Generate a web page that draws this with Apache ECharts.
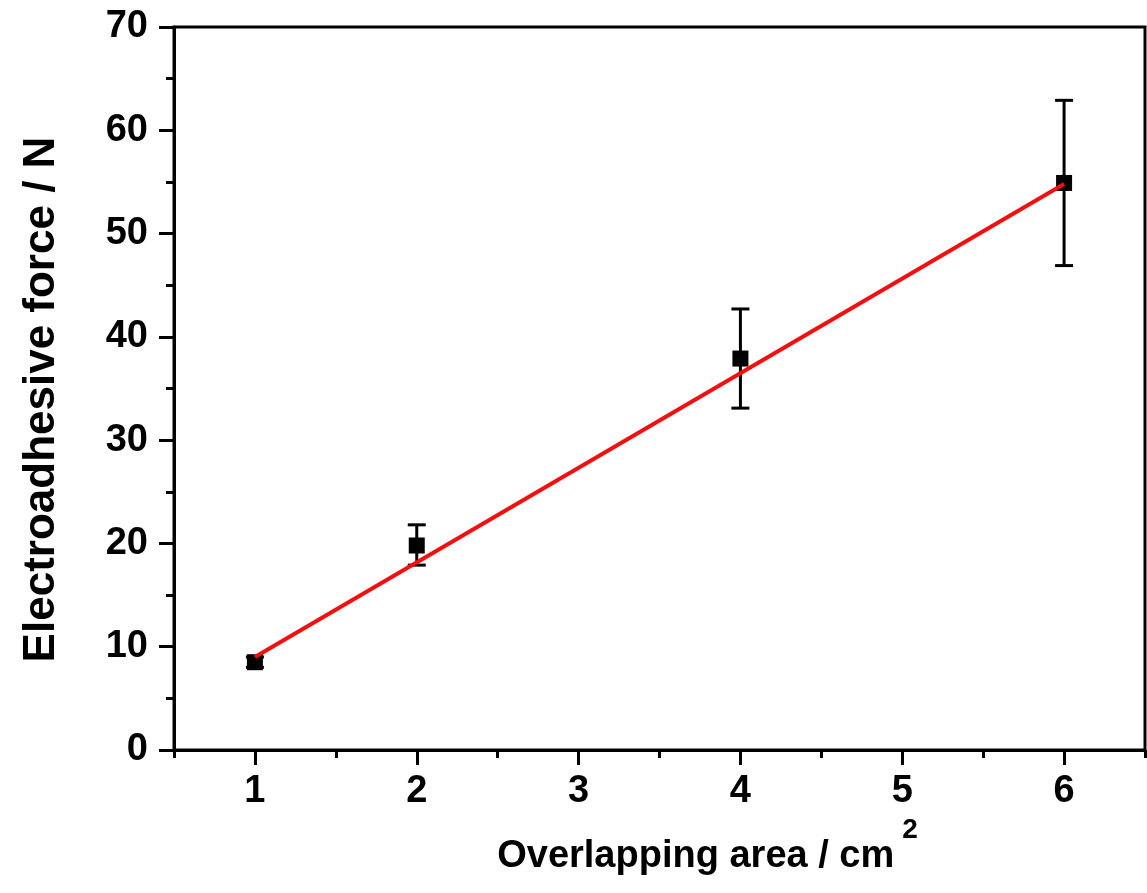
<!DOCTYPE html>
<html>
<head>
<meta charset="utf-8">
<title>Electroadhesive force vs overlapping area</title>
<script src="https://cdn.jsdelivr.net/npm/echarts@6/dist/echarts.min.js"></script>
<style>
  html, body { margin: 0; padding: 0; background: #fff; }
  #main { width: 1147px; height: 893px; }
</style>
</head>
<body>
<div id="main"></div>
<script>
// measured points (area in cm^2, force in N)
var areaValues = [1, 2, 4, 6];
var forceMeans = [8.5, 19.8, 37.9, 54.9];
var forceLow = [8.0, 17.9, 33.1, 46.9];
var forceHigh = [9.0, 21.8, 42.7, 62.9];

// linear fit, read at its ends
var fitX = [1, 6];
var fitY = [9.0, 54.8];

// tick positions
var xMajorTicks = [1, 2, 3, 4, 5, 6];
var xMinorTicks = [0.5, 1.5, 2.5, 3.5, 4.5, 5.5, 6.5];

var FONT = "'Liberation Sans', Arial, Helvetica, sans-serif";

var chart = echarts.init(document.getElementById('main'));

var points = areaValues.map(function (x, i) { return [x, forceMeans[i]]; });
var bars = areaValues.map(function (x, i) { return [x, forceLow[i], forceHigh[i]]; });
var fit = fitX.map(function (x, i) { return [x, fitY[i]]; });

// error bars: vertical line with caps
function renderErrorBar(params, api) {
    var x = api.value(0);
    var top = api.coord([x, api.value(2)]);
    var bot = api.coord([x, api.value(1)]);
    var half = 9;
    var st = { stroke: '#000', lineWidth: 3 };
    return {
        type: 'group',
        children: [
            { type: 'line', shape: { x1: top[0], y1: top[1], x2: bot[0], y2: bot[1] }, style: st },
            { type: 'line', shape: { x1: top[0] - half, y1: top[1], x2: top[0] + half, y2: top[1] }, style: st },
            { type: 'line', shape: { x1: bot[0] - half, y1: bot[1], x2: bot[0] + half, y2: bot[1] }, style: st }
        ]
    };
}

var option = {
    backgroundColor: '#fff',
    animation: false,
    grid: {
        left: 174, right: 2, top: 27, bottom: 143,
        show: true, borderColor: '#000', borderWidth: 3
    },
    xAxis: [{
        type: 'value',
        position: 'bottom',
        min: 0.5, max: 6.5,
        name: 'Overlapping area / cm{sup|2}',
        nameLocation: 'middle',
        nameGap: 62,
        nameTextStyle: {
            fontFamily: FONT, fontWeight: 'bold', fontSize: 38, color: '#000',
            padding: [0, 0, 0, 96],
            rich: {
                sup: { fontFamily: FONT, fontWeight: 'bold', fontSize: 28, color: '#000',
                       verticalAlign: 'bottom', padding: [0, 0, 54, 8] }
            }
        },
        axisLine: { show: true, onZero: false, lineStyle: { color: '#000', width: 3 } },
        axisTick: { show: true, customValues: xMajorTicks, length: 15, lineStyle: { color: '#000', width: 3 } },
        axisLabel: {
            customValues: xMajorTicks, margin: 23,
            fontFamily: FONT, fontWeight: 'bold', fontSize: 38, color: '#000'
        },
        splitLine: { show: false }
    }, {
        type: 'value',
        position: 'bottom',
        min: 0.5, max: 6.5,
        axisLine: { show: false },
        axisTick: { show: true, customValues: xMinorTicks, length: 8, lineStyle: { color: '#000', width: 3 } },
        axisLabel: { show: false },
        splitLine: { show: false }
    }],
    yAxis: {
        type: 'value',
        min: 0, max: 70, interval: 10,
        name: 'Electroadhesive force / N',
        nameLocation: 'middle',
        nameGap: 110,
        nameTextStyle: {
            fontFamily: FONT, fontWeight: 'bold', fontSize: 44, color: '#000',
            padding: [0, 22, 0, 0]
        },
        axisLine: { show: true, onZero: false, lineStyle: { color: '#000', width: 3 } },
        axisTick: { show: true, length: 15, lineStyle: { color: '#000', width: 3 } },
        minorTick: { show: true, splitNumber: 2, length: 8, lineStyle: { color: '#000', width: 3 } },
        axisLabel: { margin: 26, fontFamily: FONT, fontWeight: 'bold', fontSize: 38, color: '#000' },
        splitLine: { show: false }
    },
    series: [{
        type: 'custom',
        xAxisIndex: 0,
        renderItem: renderErrorBar,
        encode: { x: 0, y: [1, 2] },
        data: bars,
        z: 2
    }, {
        type: 'scatter',
        xAxisIndex: 0,
        symbol: 'rect',
        symbolSize: 16,
        itemStyle: { color: '#000', opacity: 1 },
        data: points,
        z: 3
    }, {
        type: 'line',
        xAxisIndex: 0,
        showSymbol: false,
        lineStyle: { color: '#f01010', width: 4 },
        data: fit,
        z: 4
    }]
};

chart.setOption(option);
</script>
</body>
</html>
